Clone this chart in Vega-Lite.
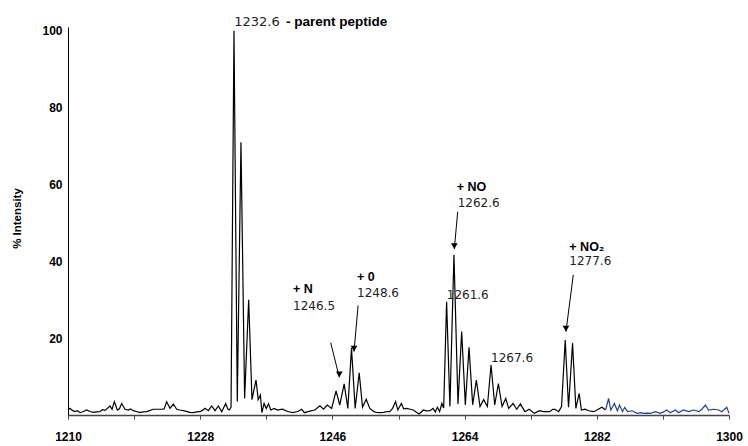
{
  "$schema": "https://vega.github.io/schema/vega-lite/v6.json",
  "width": 661,
  "height": 388,
  "autosize": {"type": "none"},
  "padding": {"left": 68, "top": 27, "right": 19, "bottom": 31},
  "background": "white",
  "config": {"view": {"stroke": null}, "font": "Liberation Sans"},
  "datasets": {
    "spectrum": [
      {"m":1210,"v":1.3,"s":"a"},{"m":1210.27,"v":1.74,"s":"a"},{"m":1210.6,"v":1.2,"s":"a"},{"m":1210.95,"v":0.87,"s":"a"},
      {"m":1211.3,"v":1.1,"s":"a"},{"m":1211.63,"v":0.6,"s":"a"},{"m":1212.1,"v":0.9,"s":"a"},{"m":1212.54,"v":1.3,"s":"a"},
      {"m":1213.0,"v":0.9,"s":"a"},{"m":1213.45,"v":0.69,"s":"a"},{"m":1213.9,"v":0.8,"s":"a"},{"m":1214.36,"v":0.87,"s":"a"},
      {"m":1214.7,"v":1.4,"s":"a"},{"m":1215.04,"v":1.2,"s":"a"},{"m":1215.4,"v":1.8,"s":"a"},{"m":1215.72,"v":2.34,"s":"a"},
      {"m":1216.0,"v":1.5,"s":"a"},{"m":1216.31,"v":3.47,"s":"a"},{"m":1216.72,"v":1.3,"s":"a"},{"m":1217.0,"v":1.6,"s":"a"},
      {"m":1217.31,"v":3.0,"s":"a"},{"m":1217.76,"v":1.5,"s":"a"},{"m":1218.22,"v":1.3,"s":"a"},{"m":1218.5,"v":1.6,"s":"a"},
      {"m":1218.9,"v":1.13,"s":"a"},{"m":1219.3,"v":0.9,"s":"a"},{"m":1219.8,"v":0.6,"s":"a"},{"m":1220.2,"v":0.8,"s":"a"},
      {"m":1220.71,"v":0.87,"s":"a"},{"m":1221.2,"v":1.2,"s":"a"},{"m":1221.6,"v":1.5,"s":"a"},{"m":1222.07,"v":1.5,"s":"a"},
      {"m":1222.75,"v":1.5,"s":"a"},{"m":1223.1,"v":1.6,"s":"a"},{"m":1223.43,"v":3.47,"s":"a"},{"m":1223.89,"v":1.74,"s":"a"},
      {"m":1224.34,"v":2.86,"s":"a"},{"m":1224.8,"v":1.5,"s":"a"},{"m":1225.2,"v":1.3,"s":"a"},{"m":1225.71,"v":1.13,"s":"a"},
      {"m":1226.2,"v":0.9,"s":"a"},{"m":1226.6,"v":0.7,"s":"a"},{"m":1227.07,"v":0.6,"s":"a"},{"m":1227.5,"v":0.8,"s":"a"},
      {"m":1227.97,"v":0.87,"s":"a"},{"m":1228.3,"v":1.2,"s":"a"},{"m":1228.65,"v":1.74,"s":"a"},{"m":1229.11,"v":1.13,"s":"a"},
      {"m":1229.56,"v":2.34,"s":"a"},{"m":1230.02,"v":1.13,"s":"a"},{"m":1230.47,"v":2.34,"s":"a"},{"m":1230.93,"v":0.87,"s":"a"},
      {"m":1231.47,"v":3.0,"s":"a"},{"m":1231.75,"v":1.6,"s":"a"},{"m":1231.95,"v":1.3,"s":"a"},{"m":1232.2,"v":2.0,"s":"a"},
      {"m":1232.6,"v":100,"s":"a"},{"m":1233.05,"v":3.5,"s":"a"},{"m":1233.55,"v":71,"s":"a"},{"m":1234.05,"v":4.3,"s":"a"},
      {"m":1234.6,"v":30,"s":"a"},{"m":1235.05,"v":4.0,"s":"a"},{"m":1235.6,"v":9.1,"s":"a"},{"m":1235.9,"v":4.0,"s":"a"},
      {"m":1236.2,"v":5.2,"s":"a"},{"m":1236.4,"v":0.6,"s":"a"},{"m":1236.7,"v":3.0,"s":"a"},{"m":1237.0,"v":1.7,"s":"a"},
      {"m":1237.3,"v":2.9,"s":"a"},{"m":1237.6,"v":1.3,"s":"a"},{"m":1238.1,"v":1.7,"s":"a"},{"m":1238.5,"v":1.3,"s":"a"},
      {"m":1239.2,"v":1.5,"s":"a"},{"m":1239.9,"v":0.9,"s":"a"},{"m":1240.6,"v":0.6,"s":"a"},{"m":1241.3,"v":0.9,"s":"a"},
      {"m":1241.8,"v":1.5,"s":"a"},{"m":1242.2,"v":0.6,"s":"a"},{"m":1242.9,"v":1.0,"s":"a"},{"m":1243.6,"v":1.3,"s":"a"},
      {"m":1244.3,"v":2.4,"s":"a"},{"m":1244.8,"v":1.5,"s":"a"},{"m":1245.3,"v":2.6,"s":"a"},{"m":1245.9,"v":1.7,"s":"a"},
      {"m":1246.5,"v":6.3,"s":"a"},{"m":1247.0,"v":2.6,"s":"a"},{"m":1247.6,"v":8.1,"s":"a"},{"m":1248.1,"v":1.7,"s":"a"},
      {"m":1248.6,"v":17.4,"s":"a"},{"m":1249.1,"v":1.7,"s":"a"},{"m":1249.65,"v":11.0,"s":"a"},{"m":1250.1,"v":2.0,"s":"a"},
      {"m":1250.6,"v":4.1,"s":"a"},{"m":1251.1,"v":1.7,"s":"a"},{"m":1251.6,"v":0.9,"s":"a"},{"m":1252.0,"v":0.7,"s":"a"},
      {"m":1252.5,"v":0.6,"s":"a"},{"m":1253.0,"v":0.7,"s":"a"},{"m":1253.4,"v":0.9,"s":"a"},{"m":1253.8,"v":0.9,"s":"a"},
      {"m":1254.2,"v":1.74,"s":"a"},{"m":1254.6,"v":3.5,"s":"a"},{"m":1254.9,"v":1.3,"s":"a"},{"m":1255.4,"v":3.0,"s":"a"},
      {"m":1255.7,"v":1.6,"s":"a"},{"m":1256.1,"v":1.74,"s":"a"},{"m":1256.6,"v":1.5,"s":"a"},{"m":1257.0,"v":1.3,"s":"a"},
      {"m":1257.4,"v":0.8,"s":"a"},{"m":1257.8,"v":0.26,"s":"a"},{"m":1258.4,"v":1.3,"s":"a"},{"m":1258.8,"v":1.1,"s":"a"},
      {"m":1259.3,"v":1.13,"s":"a"},{"m":1259.7,"v":1.7,"s":"a"},{"m":1260.0,"v":0.8,"s":"a"},{"m":1260.3,"v":2.0,"s":"a"},
      {"m":1260.6,"v":0.9,"s":"a"},{"m":1260.9,"v":3.0,"s":"a"},{"m":1261.15,"v":1.8,"s":"a"},{"m":1261.55,"v":29.5,"s":"a"},
      {"m":1262.0,"v":2.2,"s":"a"},{"m":1262.55,"v":41.7,"s":"a"},{"m":1263.1,"v":2.9,"s":"a"},{"m":1263.6,"v":21.7,"s":"a"},
      {"m":1264.1,"v":2.6,"s":"a"},{"m":1264.6,"v":17.6,"s":"a"},{"m":1265.1,"v":2.6,"s":"a"},{"m":1265.6,"v":9.1,"s":"a"},
      {"m":1266.1,"v":2.2,"s":"a"},{"m":1266.6,"v":4.0,"s":"a"},{"m":1267.1,"v":2.2,"s":"a"},{"m":1267.6,"v":13.0,"s":"a"},
      {"m":1268.1,"v":2.6,"s":"a"},{"m":1268.6,"v":8.2,"s":"a"},{"m":1269.1,"v":2.2,"s":"a"},{"m":1269.6,"v":4.3,"s":"a"},
      {"m":1270.0,"v":1.74,"s":"a"},{"m":1270.6,"v":3.0,"s":"a"},{"m":1271.1,"v":1.5,"s":"a"},{"m":1271.6,"v":2.9,"s":"a"},
      {"m":1272.2,"v":0.87,"s":"a"},{"m":1272.8,"v":1.5,"s":"a"},{"m":1273.5,"v":0.43,"s":"a"},{"m":1274.2,"v":1.13,"s":"a"},
      {"m":1274.7,"v":0.9,"s":"a"},{"m":1275.1,"v":0.87,"s":"a"},{"m":1275.6,"v":0.87,"s":"a"},{"m":1276.0,"v":1.5,"s":"a"},
      {"m":1276.3,"v":1.48,"s":"a"},{"m":1276.8,"v":0.87,"s":"a"},{"m":1277.2,"v":2.2,"s":"a"},{"m":1277.7,"v":19.5,"s":"a"},
      {"m":1278.15,"v":2.0,"s":"a"},{"m":1278.7,"v":18.7,"s":"a"},{"m":1279.15,"v":1.7,"s":"a"},{"m":1279.6,"v":5.6,"s":"a"},
      {"m":1279.9,"v":1.3,"s":"a"},{"m":1280.4,"v":1.5,"s":"a"},{"m":1280.9,"v":1.1,"s":"a"},{"m":1281.6,"v":0.87,"s":"a"},
      {"m":1282.2,"v":1.5,"s":"a"},{"m":1282.7,"v":2.0,"s":"a"},{"m":1283.2,"v":1.3,"s":"a"},
      {"m":1283.2,"v":1.3,"s":"b"},{"m":1283.6,"v":4.3,"s":"b"},{"m":1283.9,"v":1.3,"s":"b"},{"m":1284.4,"v":3.0,"s":"b"},
      {"m":1284.8,"v":1.1,"s":"b"},{"m":1285.1,"v":2.6,"s":"b"},{"m":1285.5,"v":0.87,"s":"b"},{"m":1285.8,"v":2.0,"s":"b"},
      {"m":1286.2,"v":0.87,"s":"b"},{"m":1286.8,"v":1.1,"s":"b"},{"m":1287.5,"v":0.43,"s":"b"},{"m":1288.0,"v":0.6,"s":"b"},
      {"m":1288.4,"v":0.43,"s":"b"},{"m":1288.9,"v":0.5,"s":"b"},{"m":1289.3,"v":0.43,"s":"b"},{"m":1290.0,"v":0.87,"s":"b"},
      {"m":1290.6,"v":0.43,"s":"b"},{"m":1291.1,"v":0.8,"s":"b"},{"m":1291.5,"v":1.3,"s":"b"},{"m":1292.0,"v":0.6,"s":"b"},
      {"m":1292.7,"v":1.3,"s":"b"},{"m":1293.1,"v":0.6,"s":"b"},{"m":1293.8,"v":1.3,"s":"b"},{"m":1294.5,"v":0.87,"s":"b"},
      {"m":1295.2,"v":1.3,"s":"b"},{"m":1295.9,"v":0.87,"s":"b"},{"m":1296.3,"v":1.5,"s":"b"},{"m":1296.8,"v":2.6,"s":"b"},
      {"m":1297.2,"v":1.3,"s":"b"},{"m":1297.9,"v":1.5,"s":"b"},{"m":1298.6,"v":1.3,"s":"b"},{"m":1299.0,"v":0.87,"s":"b"},
      {"m":1299.7,"v":2.0,"s":"b"},{"m":1300.0,"v":0.43,"s":"b"}
    ],
    "arrows": [
      {"m1":1245.77,"v1":18.8,"m2":1246.94,"v2":9.8},
      {"m1":1249.5,"v1":28.5,"m2":1248.94,"v2":16.5},
      {"m1":1263.06,"v1":52.9,"m2":1262.6,"v2":43.2},
      {"m1":1278.8,"v1":36.5,"m2":1277.8,"v2":21.7}
    ],
    "boldLabels": [
      {"m":1240.64,"v":32.7,"t":"+ N"},
      {"m":1249.35,"v":35.9,"t":"+ 0"},
      {"m":1262.93,"v":59.3,"t":"+ NO"},
      {"m":1278.26,"v":43.8,"t":"+ NO₂"}
    ],
    "numLabels": [
      {"m":1240.64,"v":28.5,"t":"1246.5"},
      {"m":1249.35,"v":31.8,"t":"1248.6"},
      {"m":1263.06,"v":55.1,"t":"1262.6"},
      {"m":1261.57,"v":31.25,"t":"1261.6"},
      {"m":1267.6,"v":14.8,"t":"1267.6"},
      {"m":1278.26,"v":40.2,"t":"1277.6"}
    ],
    "topNum": [{"m":1232.64,"v":102.2,"t":"1232.6"}],
    "topText": [{"m":1239.68,"v":102.2,"t":"- parent peptide"}]
  },
  "layer": [
    {
      "data": {"name": "spectrum"},
      "mark": {"type": "line", "strokeWidth": 1.2},
      "encoding": {
        "x": {
          "field": "m", "type": "quantitative",
          "scale": {"domain": [1210, 1300], "nice": false, "zero": false},
          "axis": {
            "values": [1210,1219,1228,1237,1246,1255,1264,1273,1282,1291,1300],
            "labelExpr": "(datum.value-1210)%18==0 ? datum.label : ''",
            "format": "d", "title": null, "grid": false,
            "tickSize": 4, "tickColor": "#444", "domainColor": "#444", "domainWidth": 1.5,
            "labelFont": "Liberation Sans", "labelFontWeight": "bold", "labelFontSize": 12,
            "labelColor": "#000", "labelPadding": 12, "labelFlush": false, "labelOverlap": false
          }
        },
        "y": {
          "field": "v", "type": "quantitative",
          "scale": {"domain": [0, 101], "nice": false},
          "axis": {
            "values": [20, 40, 60, 80, 100], "ticks": false, "grid": false,
            "domainColor": "#000", "domainWidth": 1,
            "labelFont": "Liberation Sans", "labelFontWeight": "bold", "labelFontSize": 12,
            "labelColor": "#000", "labelPadding": 6,
            "title": "% Intensity", "titleFont": "Liberation Sans", "titleFontWeight": "bold",
            "titleFontSize": 11.5, "titleColor": "#000", "titleX": -51, "titleY": 191,
            "titleAngle": -90, "titleAlign": "center", "titleBaseline": "middle"
          }
        },
        "color": {
          "field": "s", "type": "nominal",
          "scale": {"domain": ["a", "b"], "range": ["#000000", "#233f96"]},
          "legend": null
        }
      }
    },
    {
      "mark": {"type": "rule", "color": "#666", "strokeWidth": 1.5},
      "encoding": {"x": {"datum": 1300}, "y": {"datum": 0}, "y2": {"datum": 101}}
    },
    {
      "data": {"name": "arrows"},
      "mark": {"type": "rule", "color": "#000", "strokeWidth": 1},
      "encoding": {
        "x": {"field": "m1", "type": "quantitative"},
        "y": {"field": "v1", "type": "quantitative"},
        "x2": {"field": "m2"},
        "y2": {"field": "v2"}
      }
    },
    {
      "data": {"name": "arrows"},
      "mark": {"type": "point", "shape": "triangle-down", "filled": true, "color": "#000", "size": 45, "yOffset": -3, "opacity": 1},
      "encoding": {
        "x": {"field": "m2", "type": "quantitative"},
        "y": {"field": "v2", "type": "quantitative"}
      }
    },
    {
      "data": {"name": "boldLabels"},
      "mark": {"type": "text", "align": "left", "baseline": "middle", "font": "Liberation Sans", "fontWeight": "bold", "fontSize": 12.5, "color": "#000"},
      "encoding": {
        "x": {"field": "m", "type": "quantitative"},
        "y": {"field": "v", "type": "quantitative"},
        "text": {"field": "t"}
      }
    },
    {
      "data": {"name": "numLabels"},
      "mark": {"type": "text", "align": "left", "baseline": "middle", "font": "DejaVu Sans", "fontSize": 12, "color": "#222"},
      "encoding": {
        "x": {"field": "m", "type": "quantitative"},
        "y": {"field": "v", "type": "quantitative"},
        "text": {"field": "t"}
      }
    },
    {
      "data": {"name": "topNum"},
      "mark": {"type": "text", "align": "left", "baseline": "middle", "font": "DejaVu Sans", "fontSize": 13, "color": "#222"},
      "encoding": {
        "x": {"field": "m", "type": "quantitative"},
        "y": {"field": "v", "type": "quantitative"},
        "text": {"field": "t"}
      }
    },
    {
      "data": {"name": "topText"},
      "mark": {"type": "text", "align": "left", "baseline": "middle", "font": "Liberation Sans", "fontWeight": "bold", "fontSize": 13.5, "color": "#000"},
      "encoding": {
        "x": {"field": "m", "type": "quantitative"},
        "y": {"field": "v", "type": "quantitative"},
        "text": {"field": "t"}
      }
    }
  ]
}
